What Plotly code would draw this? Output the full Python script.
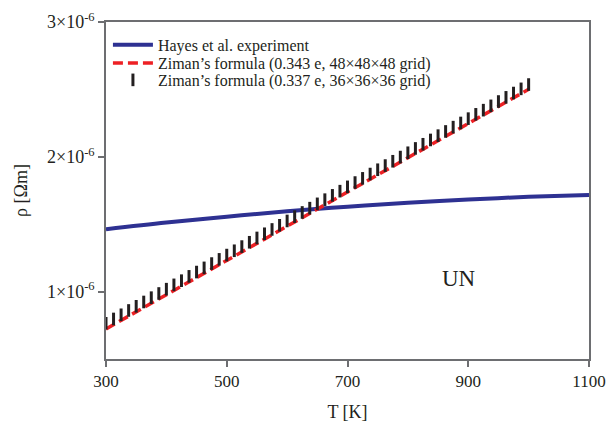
import plotly.graph_objects as go

# Hayes et al. experiment
hayes_T = [300, 400, 500, 600, 700, 800, 900, 1000, 1100]
hayes_rho = [1.462e-6, 1.512e-6, 1.556e-6, 1.596e-6, 1.630e-6, 1.659e-6, 1.683e-6, 1.703e-6, 1.717e-6]

# Ziman's formula (0.343 e, 48x48x48 grid)
z48_T = [300, 400, 500, 600, 700, 800, 900, 1000]
z48_rho = [0.723e-6, 0.977e-6, 1.231e-6, 1.485e-6, 1.739e-6, 1.993e-6, 2.247e-6, 2.501e-6]

# Ziman's formula (0.337 e, 36x36x36 grid)
z36_T = [300.0, 312.5, 325.0, 337.5, 350.0, 362.5, 375.0, 387.5, 400.0, 412.5,
         425.0, 437.5, 450.0, 462.5, 475.0, 487.5, 500.0, 512.5, 525.0, 537.5,
         550.0, 562.5, 575.0, 587.5, 600.0, 612.5, 625.0, 637.5, 650.0, 662.5,
         675.0, 687.5, 700.0, 712.5, 725.0, 737.5, 750.0, 762.5, 775.0, 787.5,
         800.0, 812.5, 825.0, 837.5, 850.0, 862.5, 875.0, 887.5, 900.0, 912.5,
         925.0, 937.5, 950.0, 962.5, 975.0, 987.5, 1000.0]
z36_rho_e6 = [0.765, 0.797, 0.828, 0.860, 0.891, 0.923, 0.955, 0.986, 1.018, 1.050,
              1.081, 1.113, 1.145, 1.176, 1.208, 1.239, 1.271, 1.303, 1.334, 1.366,
              1.398, 1.429, 1.461, 1.492, 1.524, 1.556, 1.587, 1.619, 1.651, 1.682,
              1.714, 1.745, 1.777, 1.809, 1.840, 1.872, 1.904, 1.935, 1.967, 1.998,
              2.030, 2.062, 2.093, 2.125, 2.157, 2.188, 2.220, 2.251, 2.283, 2.315,
              2.346, 2.378, 2.410, 2.441, 2.473, 2.504, 2.536]
z36_rho = [v * 1e-6 for v in z36_rho_e6]

x_ticks = [300, 500, 700, 900, 1100]
y_ticks = [1e-6, 2e-6, 3e-6]
y_ticktext = ["1×10<sup>-6</sup>", "2×10<sup>-6</sup>", "3×10<sup>-6</sup>"]

FONT = "Liberation Serif"
INK = "#231f20"

fig = go.Figure()
fig.add_trace(go.Scatter(
    x=hayes_T, y=hayes_rho, mode="lines", name="Hayes et al. experiment",
    line=dict(color="#2e3192", width=4, shape="spline"), legend="legend"))
fig.add_trace(go.Scatter(
    x=z48_T, y=z48_rho, mode="lines",
    name="Ziman’s formula (0.343 e, 48×48×48 grid)",
    line=dict(color="#ed2024", width=3.5, dash="10px,5px"), legend="legend2"))
fig.add_trace(go.Scatter(
    x=z36_T, y=z36_rho, mode="markers",
    name="Ziman’s formula (0.337 e, 36×36×36 grid)",
    marker=dict(symbol="line-ns", size=9, color=INK,
                line=dict(color=INK, width=3)), legend="legend3"))

fig.add_annotation(x=884, y=1.10e-6, text="UN", showarrow=False,
                   font=dict(family=FONT, size=23, color=INK))

axis_common = dict(showline=True, linecolor="#6d6e71", linewidth=1.5, mirror=True,
                   ticks="outside", ticklen=6, tickcolor="#6d6e71", tickwidth=1.5,
                   showgrid=False, zeroline=False, automargin=False)

legend_common = dict(x=0.004, xanchor="left", yanchor="middle",
                     bgcolor="rgba(0,0,0,0)",
                     font=dict(family=FONT, size=16, color=INK), itemwidth=40)

fig.update_layout(
    width=612, height=428,
    margin=dict(l=106, r=23, t=22, b=69),
    paper_bgcolor="white", plot_bgcolor="white",
    font=dict(family=FONT, color=INK),
    xaxis=dict(range=[300, 1100], tickvals=x_ticks,
               tickfont=dict(family=FONT, size=17, color=INK),
               title=dict(text="T [K]", font=dict(family=FONT, size=18)),
               **axis_common),
    yaxis=dict(range=[0.5e-6, 3e-6], tickvals=y_ticks, ticktext=y_ticktext,
               tickfont=dict(family=FONT, size=18, color=INK),
               title=dict(text="ρ [Ωm]", font=dict(family=FONT, size=18)),
               **axis_common),
    legend=dict(y=0.932, **legend_common),
    legend2=dict(y=0.878, **legend_common),
    legend3=dict(y=0.828, **legend_common),
    showlegend=True,
)

fig.write_html(
    "out.html",
    config={"displayModeBar": False},
    post_script="document.body.style.margin='0';document.body.style.overflow='hidden';",
)
